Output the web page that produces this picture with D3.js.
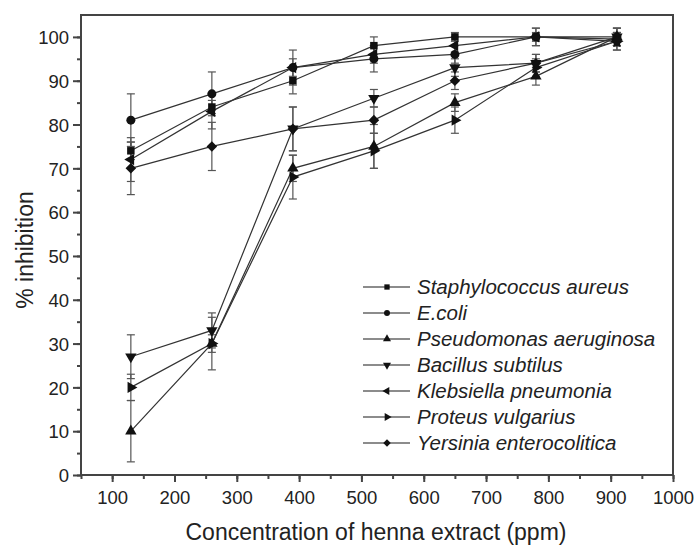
<!DOCTYPE html>
<html lang="en">
<head>
    <meta charset="UTF-8">
    <title>% inhibition vs henna extract concentration</title>
    <script src="https://d3js.org/d3.v7.min.js"></script>
    <style>
        body { margin: 0; background: #fff; }
        text { font-family: Arial, "Liberation Sans", sans-serif; fill: #222; }
    </style>
</head>
<body>
    <svg id="chart" width="696" height="546"></svg>

    <script>
        // x values (ppm)
        const concentrations = [130, 260, 390, 520, 650, 780, 910];

        const seriesNames = [
            "Staphylococcus aureus", "E.coli", "Pseudomonas aeruginosa",
            "Bacillus subtilus", "Klebsiella pneumonia", "Proteus vulgarius",
            "Yersinia enterocolitica"
        ];

        // % inhibition per series
        const staphylococcus = [74, 84, 90, 98, 100, 100, 99.5];
        const ecoli          = [81, 87, 93, 95, 96, 100, 100];
        const pseudomonas    = [10, 30, 70, 75, 85, 91, 100];
        const bacillus       = [27, 33, 79, 86, 93, 94, 100];
        const klebsiella     = [72, 83, 93, 96, 98, 100, 99];
        const proteus        = [20, 30, 68, 74, 81, 93, 99];
        const yersinia       = [70, 75, 79, 81, 90, 94, 99];

        // error bar half-widths
        const staphylococcusErr = [2, 1.5, 3, 2, 1, 2, 1.5];
        const ecoliErr          = [6, 5, 4, 3, 2, 2, 2];
        const pseudomonasErr    = [7, 6, 3, 5, 2, 2, 2];
        const bacillusErr       = [5, 4, 5, 2, 2, 2, 2];
        const klebsiellaErr     = [5, 4, 2, 2, 2, 1, 1];
        const proteusErr        = [3, 2, 5, 4, 3, 2, 2];
        const yersiniaErr       = [6, 5.5, 5, 3, 2, 2, 2];

        const xTicks = [100, 200, 300, 400, 500, 600, 700, 800, 900, 1000];
        const yTicks = [0, 10, 20, 30, 40, 50, 60, 70, 80, 90, 100];

        const values = [staphylococcus, ecoli, pseudomonas, bacillus, klebsiella, proteus, yersinia];
        const errors = [staphylococcusErr, ecoliErr, pseudomonasErr, bacillusErr, klebsiellaErr, proteusErr, yersiniaErr];

        // marker shape for each series: [symbol type, rotation]
        const markers = [
            [d3.symbolSquare, 0], [d3.symbolCircle, 0], [d3.symbolTriangle, 0],
            [d3.symbolTriangle, 180], [d3.symbolTriangle, -90], [d3.symbolTriangle, 90],
            [d3.symbolSquare, 45]
        ];

        const series = seriesNames.map((name, i) => ({
            name,
            marker: markers[i],
            points: concentrations.map((c, j) => ({ x: c, y: values[i][j], e: errors[i][j] }))
        }));

        const svg = d3.select("#chart");
        const plotLeft = 81, plotRight = 673, plotTop = 15, plotBottom = 475;

        const x = d3.scaleLinear().domain([50, 1000]).range([plotLeft, plotRight]);
        const y = d3.scaleLinear().domain([0, 105]).range([plotBottom, plotTop]);

        const axisColor = "#444";

        // frame
        svg.append("rect")
            .attr("x", plotLeft).attr("y", plotTop)
            .attr("width", plotRight - plotLeft).attr("height", plotBottom - plotTop)
            .attr("fill", "none").attr("stroke", axisColor).attr("stroke-width", 2);

        // x axis, major + minor ticks
        const xAxis = svg.append("g").attr("transform", `translate(0,${plotBottom})`);
        xAxis.call(d3.axisBottom(x).tickValues(d3.range(50, 1001, 50)).tickSize(4).tickFormat(""));
        xAxis.append("g").call(d3.axisBottom(x).tickValues(xTicks).tickSize(7).tickPadding(9).tickFormat(d3.format("d")));
        xAxis.selectAll(".domain").remove();
        xAxis.selectAll("line").attr("stroke", axisColor).attr("stroke-width", 2);
        xAxis.selectAll("text").style("font-size", "18.5px").attr("fill", "#222");

        // y axis
        const yAxis = svg.append("g").attr("transform", `translate(${plotLeft},0)`);
        yAxis.call(d3.axisLeft(y).tickValues(d3.range(0, 101, 5)).tickSize(4).tickFormat(""));
        yAxis.append("g").call(d3.axisLeft(y).tickValues(yTicks).tickSize(8).tickPadding(4).tickFormat(d3.format("d")));
        yAxis.selectAll(".domain").remove();
        yAxis.selectAll("line").attr("stroke", axisColor).attr("stroke-width", 2);
        yAxis.selectAll("text").style("font-size", "18.5px").attr("fill", "#222").attr("dy", "0.36em");

        // axis titles
        svg.append("text")
            .attr("x", 376).attr("y", 540)
            .attr("text-anchor", "middle")
            .style("font-size", "23px")
            .text("Concentration of henna extract (ppm)");

        svg.append("text")
            .attr("transform", "translate(33,250) rotate(-90)")
            .attr("text-anchor", "middle")
            .style("font-size", "23px")
            .text("% inhibition");

        const line = d3.line().x(d => x(d.x)).y(d => y(d.y));
        const symbolPath = (m) => d3.symbol().type(m[0]).size(m[0] === d3.symbolCircle ? 64 : 56)();

        // error bars
        series.forEach(s => {
            const g = svg.append("g").attr("stroke", "#555").attr("stroke-width", 1.2);
            s.points.forEach(p => {
                const cx = x(p.x);
                g.append("line").attr("x1", cx).attr("x2", cx).attr("y1", y(p.y - p.e)).attr("y2", y(p.y + p.e));
                g.append("line").attr("x1", cx - 4).attr("x2", cx + 4).attr("y1", y(p.y - p.e)).attr("y2", y(p.y - p.e));
                g.append("line").attr("x1", cx - 4).attr("x2", cx + 4).attr("y1", y(p.y + p.e)).attr("y2", y(p.y + p.e));
            });
        });

        // series lines
        svg.selectAll(".series-line")
            .data(series)
            .enter().append("path")
            .attr("class", "series-line")
            .attr("d", d => line(d.points))
            .attr("fill", "none")
            .attr("stroke", "#333")
            .attr("stroke-width", 1.2);

        // markers
        series.forEach(s => {
            svg.selectAll(null)
                .data(s.points)
                .enter().append("path")
                .attr("d", symbolPath(s.marker))
                .attr("transform", d => `translate(${x(d.x)},${y(d.y)}) rotate(${s.marker[1]})`)
                .attr("fill", "#111");
        });

        // legend
        const legend = svg.append("g");
        series.forEach((s, i) => {
            const ly = 287 + i * 26;
            legend.append("line")
                .attr("x1", 363).attr("x2", 410).attr("y1", ly).attr("y2", ly)
                .attr("stroke", "#666").attr("stroke-width", 1.5);
            legend.append("path")
                .attr("d", d3.symbol().type(s.marker[0]).size(28)())
                .attr("transform", `translate(387,${ly}) rotate(${s.marker[1]})`)
                .attr("fill", "#111");
            legend.append("text")
                .attr("x", 417).attr("y", ly).attr("dy", "0.36em")
                .style("font-size", "20.5px").style("font-style", "italic")
                .text(s.name);
        });
    </script>
</body>
</html>
